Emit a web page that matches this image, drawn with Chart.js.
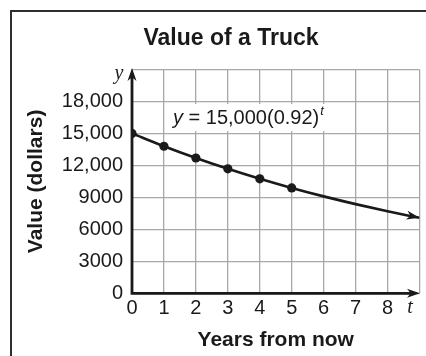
<!DOCTYPE html>
<html>
<head>
<meta charset="utf-8">
<script src="https://cdn.jsdelivr.net/npm/chart.js@4/dist/chart.umd.min.js"></script>
<style>
  html, body { margin: 0; padding: 0; background: #fff; }
  canvas { display: block; }
</style>
</head>
<body>
<canvas id="c" width="426" height="356"></canvas>
<script>
// Truck value by year: marked points for years 0-5, and the curve y = 15,000(0.92)^t
const years = [0, 1, 2, 3, 4, 5];
const truckValues = [15000, 13800, 12696, 11680, 10746, 9886];
const curveYears = [0, 1, 2, 3, 4, 5, 6, 7, 8, 9];
const curveValues = [15000, 13800, 12696, 11680, 10746, 9886, 9095, 8368, 7698, 7082];
const xTickLabels = ['0', '1', '2', '3', '4', '5', '6', '7', '8'];
const yTickLabels = ['0', '3000', '6000', '9000', '12,000', '15,000', '18,000'];

const SANS = '"Liberation Sans", Arial, Helvetica, sans-serif';
const SERIF = '"Liberation Serif", "Times New Roman", serif';
const INK = '#1a1a1a';

function arrowHead(ctx, x, y, ang, len, half) {
  ctx.save();
  ctx.translate(x, y);
  ctx.rotate(ang);
  ctx.beginPath();
  ctx.moveTo(0, 0);
  ctx.lineTo(-len, -half);
  ctx.lineTo(-len * 0.72, 0);
  ctx.lineTo(-len, half);
  ctx.closePath();
  ctx.fill();
  ctx.restore();
}

const decor = {
  id: 'decor',
  beforeDatasetsDraw(chart) {
    // white label panel behind the equation
    const ctx = chart.ctx;
    ctx.save();
    ctx.fillStyle = '#fff';
    ctx.fillRect(166, 104, 179, 27);
    ctx.fillStyle = INK;
    ctx.textBaseline = 'alphabetic';
    ctx.textAlign = 'left';
    let x = 173;
    const base = 124;
    ctx.font = 'italic 20px ' + SANS;
    ctx.fillText('y', x, base);
    x += ctx.measureText('y').width;
    ctx.font = '20px ' + SANS;
    const rest = ' = 15,000(0.92)';
    ctx.fillText(rest, x, base);
    x += ctx.measureText(rest).width + 1;
    ctx.font = 'italic 13px ' + SANS;
    ctx.fillText('t', x, base - 9);
    ctx.restore();
  },
  afterDatasetsDraw(chart) {
    const ctx = chart.ctx;
    const xs = chart.scales.x, ys = chart.scales.y;
    const x0 = xs.getPixelForValue(0);
    const y0 = ys.getPixelForValue(0);
    const yTop = ys.getPixelForValue(21000) - 1.5;
    const xRight = xs.getPixelForValue(9) + 0.5;
    ctx.save();
    ctx.strokeStyle = INK;
    ctx.fillStyle = INK;
    ctx.lineWidth = 2.8;
    ctx.lineCap = 'butt';
    ctx.beginPath();
    ctx.moveTo(x0, y0 + 1.4);
    ctx.lineTo(x0, yTop + 8);
    ctx.moveTo(x0 - 1.4, y0);
    ctx.lineTo(xRight - 8, y0);
    ctx.stroke();
    arrowHead(ctx, x0, yTop, -Math.PI / 2, 13, 4.5);
    arrowHead(ctx, xRight, y0, 0, 13, 4.5);

    // arrow at the end of the curve
    const pts = chart.getDatasetMeta(1).data;
    const a = pts[pts.length - 2], b = pts[pts.length - 1];
    const ang = Math.atan2(b.y - a.y, b.x - a.x);
    arrowHead(ctx, b.x, b.y, ang, 13, 4.5);
    ctx.restore();
  },
  afterDraw(chart) {
    const ctx = chart.ctx;
    ctx.save();
    ctx.fillStyle = INK;
    ctx.textAlign = 'center';
    ctx.textBaseline = 'alphabetic';
    ctx.font = 'bold 23px ' + SANS;
    ctx.fillText('Value of a Truck', 231, 45);
    ctx.font = 'italic 20px ' + SERIF;
    ctx.fillText('y', 119, 79);
    ctx.fillText('t', 410, 313);
    ctx.strokeStyle = '#2e2e2e';
    ctx.lineWidth = 2;
    ctx.strokeRect(11, 11, 600, 600);
    ctx.restore();
  }
};

Chart.defaults.font.family = SANS;
Chart.defaults.color = INK;

new Chart(document.getElementById('c'), {
  type: 'line',
  data: {
    datasets: [
      {
        data: years.map((t, i) => ({ x: t, y: truckValues[i] })),
        showLine: false,
        pointRadius: 4.6,
        pointBorderWidth: 0,
        pointBackgroundColor: INK,
        pointBorderColor: INK
      },
      {
        data: curveYears.map((t, i) => ({ x: t, y: curveValues[i] })),
        borderColor: INK,
        borderWidth: 2.6,
        pointRadius: 0,
        cubicInterpolationMode: 'monotone',
        fill: false
      }
    ]
  },
  options: {
    responsive: false,
    animation: false,
    events: [],
    layout: { padding: { left: 0, right: 6.5, top: 69.5, bottom: 0 } },
    plugins: { legend: { display: false }, tooltip: { enabled: false }, title: { display: false } },
    scales: {
      x: {
        type: 'linear',
        min: 0,
        max: 9,
        afterFit(s) { s.height = 62.7; },
        border: { display: false },
        grid: { color: '#a8a8a8', lineWidth: 1.3, drawTicks: false },
        ticks: {
          stepSize: 1,
          autoSkip: false,
          maxRotation: 0,
          padding: 3,
          font: { size: 20 },
          color: INK,
          callback: v => xTickLabels[v] ?? ''
        },
        title: {
          display: true,
          text: 'Years from now',
          font: { size: 21, weight: 'bold' },
          color: INK,
          padding: { top: 0, bottom: 3.4 }
        }
      },
      y: {
        type: 'linear',
        min: 0,
        max: 21000,
        afterFit(s) { s.width = 132; },
        border: { display: false },
        grid: { color: '#a8a8a8', lineWidth: 1.3, drawTicks: false },
        ticks: {
          stepSize: 3000,
          autoSkip: false,
          padding: 9,
          font: { size: 20 },
          color: INK,
          callback: v => yTickLabels[v / 3000] ?? ''
        },
        title: {
          display: true,
          text: 'Value (dollars)',
          font: { size: 21, weight: 'bold' },
          color: INK,
          padding: { top: 23.9, bottom: 0 }
        }
      }
    }
  },
  plugins: [decor]
});
</script>
</body>
</html>
